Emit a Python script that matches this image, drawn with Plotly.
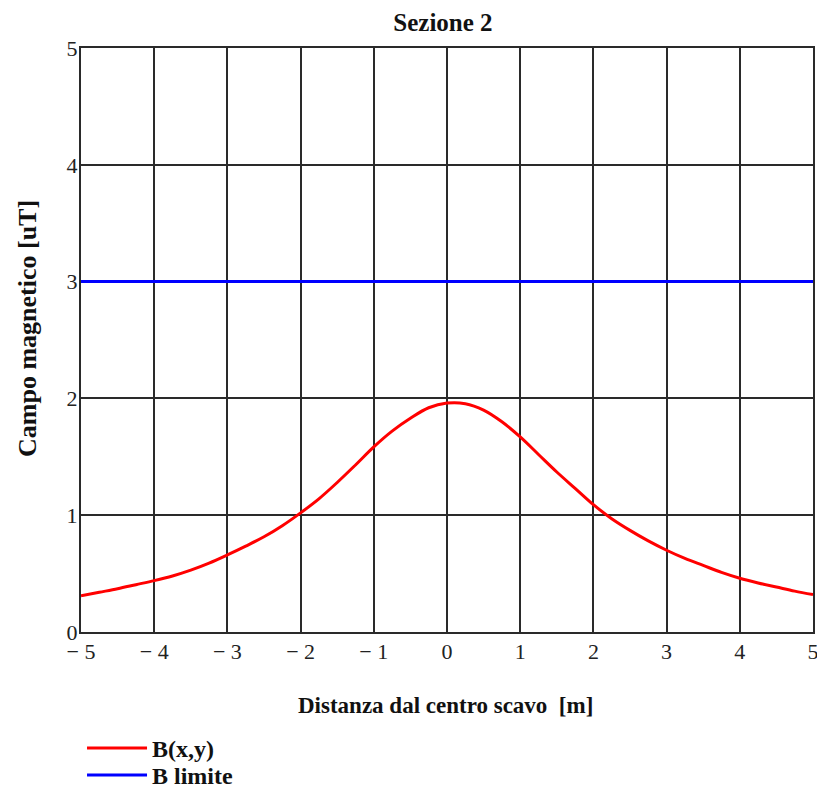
import plotly.graph_objects as go

x_vals = [-5.0, -4.75, -4.5, -4.25, -4.0, -3.75, -3.5, -3.25, -3.0, -2.75, -2.5, -2.25,
          -2.0, -1.75, -1.5, -1.25, -1.0, -0.75, -0.5, -0.25, 0.0, 0.25, 0.5, 0.75,
          1.0, 1.25, 1.5, 1.75, 2.0, 2.25, 2.5, 2.75, 3.0, 3.25, 3.5, 3.75, 4.0,
          4.25, 4.5, 4.75, 5.0]
b_vals = [0.31, 0.34, 0.37, 0.405, 0.44, 0.48, 0.53, 0.59, 0.66, 0.735, 0.815, 0.91,
          1.02, 1.14, 1.28, 1.43, 1.585, 1.72, 1.83, 1.92, 1.96, 1.955, 1.90, 1.80,
          1.67, 1.52, 1.37, 1.23, 1.09, 0.97, 0.87, 0.78, 0.70, 0.63, 0.57, 0.51, 0.46,
          0.42, 0.385, 0.35, 0.32]
limit_x = [-5, 5]
limit_vals = [3, 3]

x_ticks = [-5, -4, -3, -2, -1, 0, 1, 2, 3, 4, 5]
x_ticktext = ["\u2212\u00a05", "\u2212\u00a04", "\u2212\u00a03", "\u2212\u00a02", "\u2212\u00a01",
              "0", "1", "2", "3", "4", "5"]
y_ticks = [0, 1, 2, 3, 4, 5]

serif = "Liberation Serif, Times New Roman, serif"
ink = "#111111"

fig = go.Figure()
fig.add_trace(go.Scatter(x=x_vals, y=b_vals, mode="lines", name="<b>B(x,y)</b>",
                         legend="legend",
                         line=dict(color="#ff0000", width=3, shape="spline")))
fig.add_trace(go.Scatter(x=limit_x, y=limit_vals, mode="lines", name="<b>B limite</b>",
                         legend="legend2",
                         line=dict(color="#0000ff", width=3)))

leg_common = dict(xanchor="left", yanchor="top",
                  font=dict(family=serif, size=24, color=ink),
                  bgcolor="rgba(0,0,0,0)", itemwidth=60)

fig.update_layout(
    width=817, height=781,
    margin=dict(l=73, r=12, t=40, b=157, autoexpand=False),
    paper_bgcolor="white", plot_bgcolor="white",
    font=dict(family=serif, size=22, color="#222222"),
    title=dict(text="<b>Sezione 2</b>", x=0.4945, xanchor="center", xref="paper",
               y=0.982, yanchor="middle",
               font=dict(family=serif, size=25, color=ink)),
    showlegend=True,
    legend=dict(x=0.0014, y=-0.1607, **leg_common),
    legend2=dict(x=0.0014, y=-0.2069, **leg_common),
    annotations=[
        dict(text="<b>Distanza dal centro scavo  [m]</b>", xref="paper", yref="paper",
             x=0.4986, y=-0.125, xanchor="center", yanchor="middle",
             showarrow=False, font=dict(family=serif, size=23, color=ink)),
        dict(text="<b>Campo magnetico [uT]</b>", xref="paper", yref="paper",
             x=-0.0738, y=0.5205, xanchor="center", yanchor="middle",
             textangle=-90, showarrow=False, font=dict(family=serif, size=26, color=ink)),
    ],
)
fig.update_xaxes(range=[-5, 5], tickvals=x_ticks, ticktext=x_ticktext, automargin=False,
                 showgrid=True, gridcolor="#2a2a2a", gridwidth=2,
                 showline=True, linecolor="#2a2a2a", linewidth=2, mirror=True,
                 zeroline=False, ticks="", ticklabelstandoff=-1,
                 tickfont=dict(family=serif, size=22, color="#222222"))
fig.update_yaxes(range=[0, 5], tickvals=y_ticks, automargin=False,
                 showgrid=True, gridcolor="#2a2a2a", gridwidth=2,
                 showline=True, linecolor="#2a2a2a", linewidth=2, mirror=True,
                 zeroline=False, ticks="", ticklabelstandoff=-3,
                 tickfont=dict(family=serif, size=22, color="#222222"))

fig.write_html("out.html")
